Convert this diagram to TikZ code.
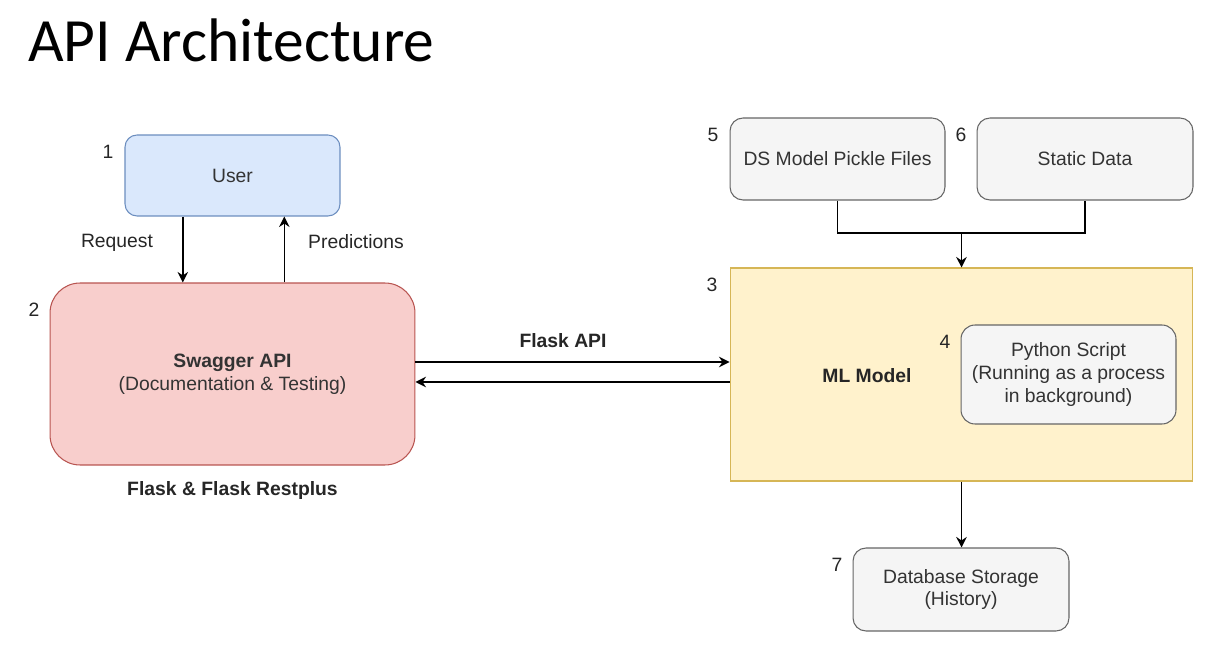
\documentclass[tikz,border=0pt]{standalone}
\usepackage{fontspec}
\setmainfont{Liberation Sans}
\newfontfamily\titlefont{Carlito}
\usetikzlibrary{shapes,arrows,arrows.meta,positioning,calc}
\definecolor{userfill}{HTML}{DAE8FC}
\definecolor{userline}{HTML}{6C8EBF}
\definecolor{apifill}{HTML}{F8CECC}
\definecolor{apiline}{HTML}{B85450}
\definecolor{mlfill}{HTML}{FFF2CC}
\definecolor{mlline}{HTML}{D6B656}
\definecolor{grayfill}{HTML}{F5F5F5}
\definecolor{grayline}{HTML}{666666}
\definecolor{graytext}{HTML}{333333}
\newcommand{\fs}{\fontsize{11}{13}\selectfont}
\tikzset{
  box/.style={draw,line width=0.6pt,align=center,inner sep=2pt,font=\fs},
  userbox/.style={box,fill=userfill,draw=userline,rounded corners=0.24cm,
    minimum width=4.3cm,minimum height=1.62cm,text=graytext},
  apibox/.style={box,fill=apifill,draw=apiline,rounded corners=0.6cm,
    minimum width=7.3cm,minimum height=3.64cm,text=graytext},
  mlbox/.style={box,fill=mlfill,draw=mlline,
    minimum width=9.26cm,minimum height=4.26cm},
  graybox/.style={box,fill=grayfill,draw=grayline,rounded corners=0.26cm,
    minimum width=4.3cm,minimum height=1.64cm,text=graytext},
  lbl/.style={font=\fs,text=black!85,inner sep=0pt},
  blbl/.style={font=\fs\bfseries,text=black!85,inner sep=0pt},
  link/.style={line width=0.8pt,-{Stealth[length=6pt,width=6pt,inset=2pt]}},
  line/.style={line width=0.8pt}
}

\begin{document}
\begin{tikzpicture}[x=0.02cm,y=-0.02cm]
  \useasboundingbox (0,0) rectangle (1207,648);

  \node[anchor=base west,inner sep=0pt,font=\titlefont\fontsize{35}{40}\selectfont] (title) at (28,62) {API Architecture};

  % left side
  \node[userbox] (user) at (232.5,175.5) {User};
  \node[apibox] (swagger) at (232.5,374) {\textbf{Swagger API}\\(Documentation \& Testing)};
  \node[blbl] (flask) at (232.5,491) {Flask \& Flask Restplus};

  % right side
  \node[graybox] (pickle) at (837.5,159) {DS Model Pickle Files};
  \node[graybox,minimum width=4.32cm] (static) at (1085,159) {Static Data};
  \node[mlbox] (ml) at (961.5,374.5) {};
  \node[blbl] (mltext) at (867,376) {ML Model};
  \node[graybox,minimum height=1.98cm,rounded corners=0.28cm] (script) at (1068.5,374.5)
    {Python Script\\(Running as a process\\in background)};
  \node[graybox,minimum width=4.32cm,minimum height=1.66cm] (db) at (961,589.5)
    {Database Storage\\(History)};

  % numbers
  \node[lbl] (n1) at (108,152) {1};
  \node[lbl] (n2) at (34,310) {2};
  \node[lbl] (n3) at (712,285) {3};
  \node[lbl] (n4) at (945,342) {4};
  \node[lbl] (n5) at (713,135) {5};
  \node[lbl] (n6) at (961,135) {6};
  \node[lbl] (n7) at (837,565) {7};

  % user <-> swagger
  \coordinate (req) at ($(user.south west)!0.27!(user.south east)$);
  \coordinate (pred) at ($(user.south west)!0.74!(user.south east)$);
  \draw[link] (req) -- (req |- swagger.north);
  \draw[link] (pred |- swagger.north) -- (pred);
  \node[lbl] (reqtext) at (117,243) {Request};
  \node[lbl] (predtext) at (356,242) {Predictions};

  % swagger <-> ml
  \draw[link] ([yshift=0.24cm]swagger.east) -- ([yshift=0.24cm]swagger.east -| ml.west);
  \draw[link] ([yshift=-0.16cm]swagger.east -| ml.west) -- ([yshift=-0.16cm]swagger.east);
  \node[blbl] (flaskapi) at (563,341) {Flask API};

  % inputs and storage
  \coordinate (merge) at (ml.north |- 0,233);
  \draw[line] (pickle.south) |- (merge) -| (static.south);
  \draw[link] (merge) -- (ml.north);
  \draw[link] (ml.south) -- (ml.south |- db.north);
\end{tikzpicture}
\end{document}
